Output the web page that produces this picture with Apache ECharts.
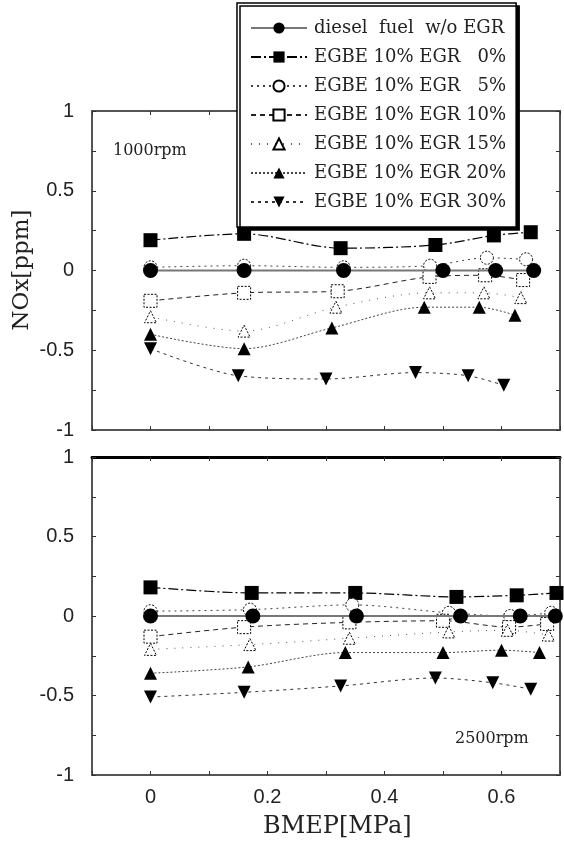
<!DOCTYPE html>
<html>
<head>
<meta charset="utf-8">
<script src="https://cdn.jsdelivr.net/npm/echarts@6/dist/echarts.min.js"></script>
<style>
  html, body { margin: 0; padding: 0; background: #fff; }
  #chart { width: 564px; height: 848px; }
</style>
</head>
<body>
<div id="chart"></div>
<script>
// series names (legend order)
const seriesNames = [
    'diesel  fuel  w/o EGR',
    'EGBE 10% EGR \u20070%',
    'EGBE 10% EGR \u20075%',
    'EGBE 10% EGR 10%',
    'EGBE 10% EGR 15%',
    'EGBE 10% EGR 20%',
    'EGBE 10% EGR 30%'
];

// 1000rpm panel: BMEP [MPa] and NOx per series
const topX0 = [0, 0.16, 0.33, 0.5, 0.59, 0.655];
const topY0 = [0, 0, 0, 0, 0, 0];
const topX1 = [0, 0.16, 0.325, 0.487, 0.587, 0.65];
const topY1 = [0.19, 0.23, 0.14, 0.16, 0.22, 0.24];
const topX2 = [0, 0.16, 0.33, 0.478, 0.575, 0.642];
const topY2 = [0.02, 0.03, 0.02, 0.03, 0.08, 0.07];
const topX3 = [0, 0.16, 0.32, 0.477, 0.572, 0.637];
const topY3 = [-0.19, -0.14, -0.13, -0.04, -0.03, -0.06];
const topX4 = [0, 0.16, 0.317, 0.477, 0.57, 0.633];
const topY4 = [-0.29, -0.38, -0.23, -0.14, -0.14, -0.17];
const topX5 = [0, 0.16, 0.31, 0.468, 0.562, 0.623];
const topY5 = [-0.40, -0.49, -0.36, -0.23, -0.23, -0.28];
const topX6 = [0, 0.15, 0.30, 0.453, 0.543, 0.604];
const topY6 = [-0.49, -0.66, -0.68, -0.64, -0.66, -0.72];

// 2500rpm panel
const botX0 = [0, 0.175, 0.352, 0.53, 0.632, 0.692];
const botY0 = [0, 0, 0, 0, 0, 0];
const botX1 = [0, 0.173, 0.35, 0.523, 0.626, 0.694];
const botY1 = [0.18, 0.145, 0.145, 0.12, 0.13, 0.145];
const botX2 = [0, 0.17, 0.345, 0.51, 0.615, 0.685];
const botY2 = [0.03, 0.04, 0.07, 0.02, 0.0, 0.02];
const botX3 = [0, 0.16, 0.34, 0.5, 0.613, 0.678];
const botY3 = [-0.13, -0.07, -0.04, -0.03, -0.07, -0.05];
const botX4 = [0, 0.17, 0.34, 0.51, 0.61, 0.68];
const botY4 = [-0.21, -0.18, -0.14, -0.10, -0.09, -0.12];
const botX5 = [0, 0.167, 0.333, 0.5, 0.6, 0.665];
const botY5 = [-0.36, -0.32, -0.23, -0.23, -0.215, -0.23];
const botX6 = [0, 0.16, 0.325, 0.487, 0.585, 0.65];
const botY6 = [-0.51, -0.48, -0.44, -0.39, -0.42, -0.46];

const topXs = [topX0, topX1, topX2, topX3, topX4, topX5, topX6];
const topYs = [topY0, topY1, topY2, topY3, topY4, topY5, topY6];
const botXs = [botX0, botX1, botX2, botX3, botX4, botX5, botX6];
const botYs = [botY0, botY1, botY2, botY3, botY4, botY5, botY6];

// marker + line look for each series
const looks = [
    { symbol: 'circle', size: 15, fill: '#000', line: { color: '#777', width: 2, type: 'solid' } },
    { symbol: 'rect', size: 14, fill: '#000', line: { color: '#000', width: 1.2, type: [10, 3, 2, 3] } },
    { symbol: 'circle', size: 13, fill: '#fff', line: { color: '#444', width: 1, type: [2, 4] } },
    { symbol: 'rect', size: 13, fill: '#fff', line: { color: '#222', width: 1, type: [5, 4] } },
    { symbol: 'triangle', size: 12, fill: '#fff', line: { color: '#555', width: 1, type: [1, 7] } },
    { symbol: 'triangle', size: 13, fill: '#000', line: { color: '#444', width: 1, type: [2, 2] } },
    { symbol: 'triangle', size: 13, fill: '#000', rotate: 180, line: { color: '#333', width: 1, type: [3, 4] } }
];

const chart = echarts.init(document.getElementById('chart'));

const yLabel = v => (Math.abs(v * 2 - Math.round(v * 2)) < 1e-6 ? String(+v.toFixed(2)) : '');
const xLabel = v => (v > -1e-6 && Math.abs(v / 0.2 - Math.round(v / 0.2)) < 1e-6 ? String(+v.toFixed(1)) : '');

const axisLine = { onZero: false, lineStyle: { color: '#555', width: 2 } };
const tick = { inside: true, length: 4, lineStyle: { color: '#333' } };
const tickFont = { fontFamily: 'Liberation Sans', fontSize: 20, color: '#222' };

function xAxes(grid, showLabels) {
    return [
        { type: 'value', gridIndex: grid, min: -0.1, max: 0.7, interval: 0.1, position: 'bottom',
          axisLine: axisLine, axisTick: tick, splitLine: { show: false },
          axisLabel: showLabels ? Object.assign({ formatter: xLabel, margin: 12 }, tickFont) : { show: false } },
        { type: 'value', gridIndex: grid, min: -0.1, max: 0.7, interval: 0.1, position: 'top',
          axisLine: grid === 1 ? { onZero: false, lineStyle: { color: '#000', width: 3 } } : axisLine,
          axisTick: tick, splitLine: { show: false }, axisLabel: { show: false } }
    ];
}
function yAxes(grid) {
    return [
        { type: 'value', gridIndex: grid, min: -1, max: 1, interval: 0.25, position: 'left',
          axisLine: axisLine, axisTick: tick, splitLine: { show: false },
          axisLabel: Object.assign({ formatter: yLabel, margin: 18 }, tickFont) },
        { type: 'value', gridIndex: grid, min: -1, max: 1, interval: 0.25, position: 'right',
          axisLine: axisLine, axisTick: tick, splitLine: { show: false }, axisLabel: { show: false } }
    ];
}

function makeSeries(xs, ys, axisIdx) {
    return seriesNames.map((name, i) => {
        const lk = looks[i];
        const open = lk.fill === '#fff';
        return {
            name: name,
            type: 'line',
            xAxisIndex: axisIdx,
            yAxisIndex: axisIdx,
            data: xs[i].map((x, k) => [x, ys[i][k]]),
            smooth: 0.3,
            symbol: lk.symbol,
            symbolSize: lk.size,
            symbolRotate: lk.rotate || 0,
            showAllSymbol: true,
            lineStyle: lk.line,
            itemStyle: open
                ? { color: '#fff', borderColor: '#000', borderWidth: 1, borderType: [2, 1.5] }
                : { color: '#000', borderColor: '#000', borderWidth: 0 },
            emphasis: { disabled: true },
            z: i === 0 ? 3 : 2
        };
    });
}

const option = {
    animation: false,
    backgroundColor: '#fff',
    grid: [
        { left: 92, top: 111, width: 468, height: 319 },
        { left: 92, top: 457, width: 468, height: 318 }
    ],
    xAxis: xAxes(0, false).concat(xAxes(1, true)),
    yAxis: yAxes(0).concat(yAxes(1)),
    title: [
        { text: '1000rpm', left: 108, top: 138,
          textStyle: { fontFamily: 'DejaVu Serif', fontSize: 16, fontWeight: 'normal', color: '#222' } },
        { text: '2500rpm', left: 450, top: 726,
          textStyle: { fontFamily: 'DejaVu Serif', fontSize: 16, fontWeight: 'normal', color: '#222' } },
        { text: 'BMEP[MPa]', left: 258, top: 810,
          textStyle: { fontFamily: 'DejaVu Serif', fontSize: 24, fontWeight: 'normal', color: '#222' } }
    ],
    graphic: [
        { type: 'text', x: 22, y: 270, rotation: Math.PI / 2,
          style: { text: 'NOx[ppm]', font: '23px "DejaVu Serif"', fill: '#222',
                   textAlign: 'center', textVerticalAlign: 'middle' } }
    ],
    legend: {
        data: seriesNames,
        orient: 'vertical',
        left: 237,
        top: 3,
        width: 296,
        padding: [16, 10, 16, 13],
        itemWidth: 56,
        itemHeight: 14,
        itemGap: 11,
        backgroundColor: '#fff',
        borderColor: '#000',
        borderWidth: 1.5,
        shadowColor: '#000',
        shadowBlur: 0,
        shadowOffsetX: 3,
        shadowOffsetY: 3,
        selectedMode: false,
        textStyle: { fontFamily: 'DejaVu Serif', fontSize: 18, color: '#222', padding: [0, 0, 0, 2] },
        z: 10
    },
    series: makeSeries(topXs, topYs, 0).concat(makeSeries(botXs, botYs, 2))
};

chart.setOption(option);
</script>
</body>
</html>
